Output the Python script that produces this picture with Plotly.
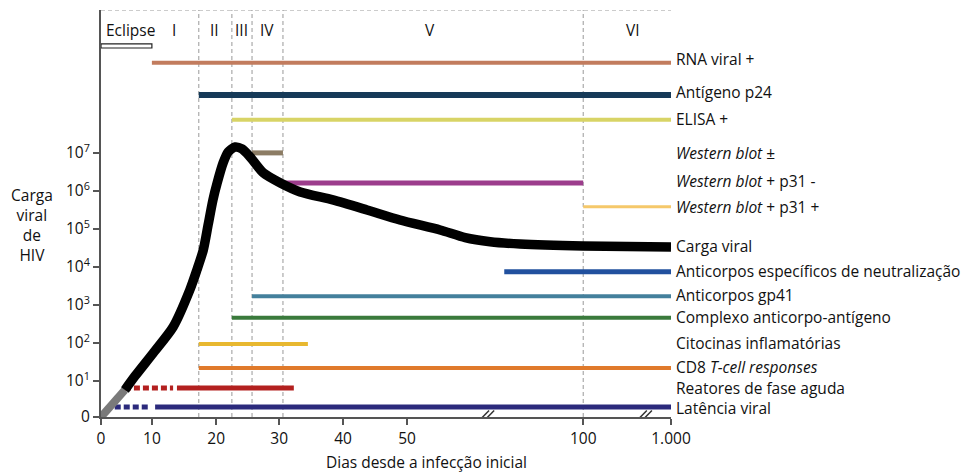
import numpy as np
import plotly.graph_objects as go

# ---------------- data ----------------
TICK_DAYS = [0, 10, 20, 30, 40, 50, 100, 1000]
TICK_TEXT = ["0", "10", "20", "30", "40", "50", "100", "1.000"]
TICK_POS = [0, 8.0, 18.1, 28.0, 38.05, 48.1, 75.8, 89.6]   # axis scale (broken axis)

Y_TICK_LOAD = [0, 1e1, 1e2, 1e3, 1e4, 1e5, 1e6, 1e7]
Y_TICK_TEXT = ["0", "10<sup>1</sup>", "10<sup>2</sup>", "10<sup>3</sup>", "10<sup>4</sup>",
               "10<sup>5</sup>", "10<sup>6</sup>", "10<sup>7</sup>"]

EARLY_DAYS = [0, 4.7]
EARLY_LOAD = [0, 7.5]
CURVE_DAYS = [4.7, 6.7, 10.2, 13.3, 15.9, 17.0, 18.0, 18.75, 19.5, 20.16, 21.1, 21.9,
              23.0, 24.1, 25.4, 27.5, 30.2, 33.3, 38.4, 43.75, 48.9, 59.4, 66.5, 73.6,
              82.1, 100, 1000]
CURVE_LOAD = [7.5, 13.5, 54, 262, 2470, 8280, 27900, 1.27e5, 5.77e5, 1.61e6, 5.42e6, 1.06e7,
              1.43e7, 1.27e7, 7.8e6, 2.96e6, 1.61e6, 9.35e5, 5.77e5, 3.14e5, 1.71e5, 9.35e4,
              5.9e4, 4.6e4, 4.0e4, 3.55e4, 3.34e4]

PHASE_NAMES = ["Eclipse", "I", "II", "III", "IV", "V", "VI"]
PHASE_BOUNDS = [17.3, 22.5, 25.7, 30.6, 100]
ECLIPSE_DAYS = [0, 10]

MARKERS = ["RNA viral +", "Antígeno p24", "ELISA +", "<i>Western blot</i> ±",
           "<i>Western blot</i> + p31 -", "<i>Western blot</i> + p31 +",
           "Anticorpos específicos de neutralização", "Anticorpos gp41",
           "Complexo anticorpo-antígeno", "Citocinas inflamatórias",
           "CD8 <i>T-cell responses</i>", "Reatores de fase aguda", "Latência viral"]
MARK_START = [10, 17.3, 22.5, 25.7, 30.6, 100, 77.6, 25.7, 22.5, 17.3, 17.3, 13.9, 10.5]
MARK_END = [1000, 1000, 1000, 30.6, 100, 1000, 1000, 1000, 1000, 34.5, 1000, 32.3, 1000]
DOTTED_START = {"Reatores de fase aguda": 4.7, "Latência viral": 2.7}
DOTTED_END = {"Reatores de fase aguda": 13.3, "Latência viral": 9.6}

# ---------------- styles / layout positions ----------------
ROW_Y = [9.32, 8.47, 7.82, 6.95, 6.16, 5.53, 3.82, 3.18, 2.61, 1.92, 1.29, 0.76, 0.26]
LABEL_Y = [9.42, 8.55, 7.84, 6.95, 6.21, 5.53, 3.84, 3.21, 2.63, 1.96, 1.32, 0.77, 0.24]
COLORS = ["#c27c5e", "#163a58", "#d8d466", "#8c7c64", "#9c3d8c", "#f5c86a", "#21509e",
          "#44809c", "#3a7a3c", "#e8b830", "#e07a2b", "#b3201f", "#2b2a7c"]
WIDTHS = [4, 6, 4, 5, 5, 3, 5, 4, 4, 4, 4, 5, 5]
PHASE_LABEL_X = [5.7, 13.5, 19.8, 24.1, 28.1, 56.5, 611]
CARGA_LABEL_Y = 4.5
Y_TOP = 10.71
FONT = "'Open Sans', Lato, sans-serif"
FS = 15.5
TXT = "#111111"
AX = "#555555"

# page geometry (page body has an 8px margin)
OFF = 8
W, H = 977 - OFF, 473 - OFF
PLOT_L, PLOT_R, PLOT_T, PLOT_B = 101, 671, 10, 417   # target page pixels
ML, MT = PLOT_L - OFF, PLOT_T - OFF
MR = W - (PLOT_R - OFF)
MB = H - (PLOT_B - OFF)


def xp(days):
    return np.interp(np.asarray(days, dtype=float), TICK_DAYS, TICK_POS)


def yp(load):
    load = np.asarray(load, dtype=float)
    return np.where(load >= 10, np.log10(np.maximum(load, 1e-9)) - 0.05, 0.95 * load / 10)


def paper_x(px):
    return (px - PLOT_L) / (PLOT_R - PLOT_L)


def paper_y(py):
    return (PLOT_B - py) / (PLOT_B - PLOT_T)


fig = go.Figure()

# marker bars
for i, name in enumerate(MARKERS):
    if name in DOTTED_START:
        fig.add_trace(go.Scatter(
            x=xp([DOTTED_START[name], DOTTED_END[name]]), y=[ROW_Y[i]] * 2, mode="lines",
            line=dict(color=COLORS[i], width=WIDTHS[i], dash="6px,3px"),
            hoverinfo="skip", showlegend=False, cliponaxis=False))
    fig.add_trace(go.Scatter(
        x=xp([MARK_START[i], MARK_END[i]]), y=[ROW_Y[i]] * 2, mode="lines",
        line=dict(color=COLORS[i], width=WIDTHS[i]),
        hoverinfo="skip", showlegend=False, cliponaxis=False))

# viral load curve
fig.add_trace(go.Scatter(
    x=xp(EARLY_DAYS), y=yp(EARLY_LOAD), mode="lines",
    line=dict(color="#7a7a7a", width=8), hoverinfo="skip", showlegend=False, cliponaxis=False))
fig.add_trace(go.Scatter(
    x=xp(CURVE_DAYS), y=yp(CURVE_LOAD), mode="lines",
    line=dict(color="#000000", width=9.5, shape="spline", smoothing=0.7),
    hoverinfo="skip", showlegend=False, cliponaxis=False))

shapes = []
shapes.append(dict(type="line", xref="x", yref="y", x0=0, x1=TICK_POS[-1], y0=Y_TOP, y1=Y_TOP,
                   line=dict(color="#999999", width=1, dash="4px,3px"), layer="below"))
for b in PHASE_BOUNDS:
    xb = float(xp(b))
    shapes.append(dict(type="line", xref="x", yref="y", x0=xb, x1=xb, y0=0, y1=Y_TOP,
                       line=dict(color="#999999", width=1, dash="4px,3px"), layer="below"))
shapes.append(dict(type="rect", xref="x", yref="y", x0=float(xp(ECLIPSE_DAYS[0])),
                   x1=float(xp(ECLIPSE_DAYS[1])), y0=9.71, y1=9.82,
                   line=dict(color="#222222", width=1.2), fillcolor="white"))
for d in [60.4, 85.2]:
    for off in [-0.4, 0.4]:
        shapes.append(dict(type="line", xref="x", yref="y",
                           x0=d + off - 1.0, x1=d + off + 1.0, y0=-0.17, y1=0.17,
                           line=dict(color="#333333", width=1.5)))

annotations = []
for name, xpos in zip(PHASE_NAMES, PHASE_LABEL_X):
    annotations.append(dict(x=float(xp(xpos)), y=10.18, xref="x", yref="y", text=name,
                            showarrow=False, xanchor="center", yanchor="middle",
                            font=dict(family=FONT, size=FS, color=TXT)))
for i, name in enumerate(MARKERS):
    annotations.append(dict(x=TICK_POS[-1], y=LABEL_Y[i], xref="x", yref="y", text=name,
                            showarrow=False, xanchor="left", yanchor="middle", xshift=4,
                            borderpad=0, font=dict(family=FONT, size=FS, color=TXT)))
annotations.append(dict(x=TICK_POS[-1], y=CARGA_LABEL_Y, xref="x", yref="y", text="Carga viral",
                        showarrow=False, xanchor="left", yanchor="middle", xshift=4,
                        borderpad=0, font=dict(family=FONT, size=FS, color=TXT)))
annotations.append(dict(x=paper_x(32), y=paper_y(225), xref="paper", yref="paper",
                        text="Carga<br>viral<br>de<br>HIV", xanchor="center", yanchor="middle",
                        showarrow=False, font=dict(family=FONT, size=FS, color=TXT)))
annotations.append(dict(x=paper_x(426), y=paper_y(462), xref="paper", yref="paper",
                        text="Dias desde a infecção inicial", xanchor="center", yanchor="middle",
                        showarrow=False, font=dict(family=FONT, size=FS, color=TXT)))

fig.update_layout(
    width=W, height=H, margin=dict(l=ML, r=MR, t=MT, b=MB, autoexpand=False),
    paper_bgcolor="white", plot_bgcolor="white",
    font=dict(family=FONT, size=FS, color=TXT),
    shapes=shapes, annotations=annotations,
    xaxis=dict(range=[0, TICK_POS[-1]], tickmode="array", tickvals=TICK_POS, ticktext=TICK_TEXT,
               showgrid=False, zeroline=False, showline=True, linecolor=AX, linewidth=2,
               ticks="outside", ticklen=6, tickwidth=1.5, tickcolor=AX,
               tickfont=dict(family=FONT, size=FS, color=TXT), fixedrange=True),
    yaxis=dict(range=[0, Y_TOP], tickmode="array", tickvals=list(yp(Y_TICK_LOAD)),
               ticktext=Y_TICK_TEXT, showgrid=False, zeroline=False, showline=True,
               linecolor=AX, linewidth=2, ticks="outside", ticklen=6, tickwidth=1.5,
               tickcolor=AX, tickfont=dict(family=FONT, size=FS, color=TXT), fixedrange=True),
)

fig.write_html("out.html")
